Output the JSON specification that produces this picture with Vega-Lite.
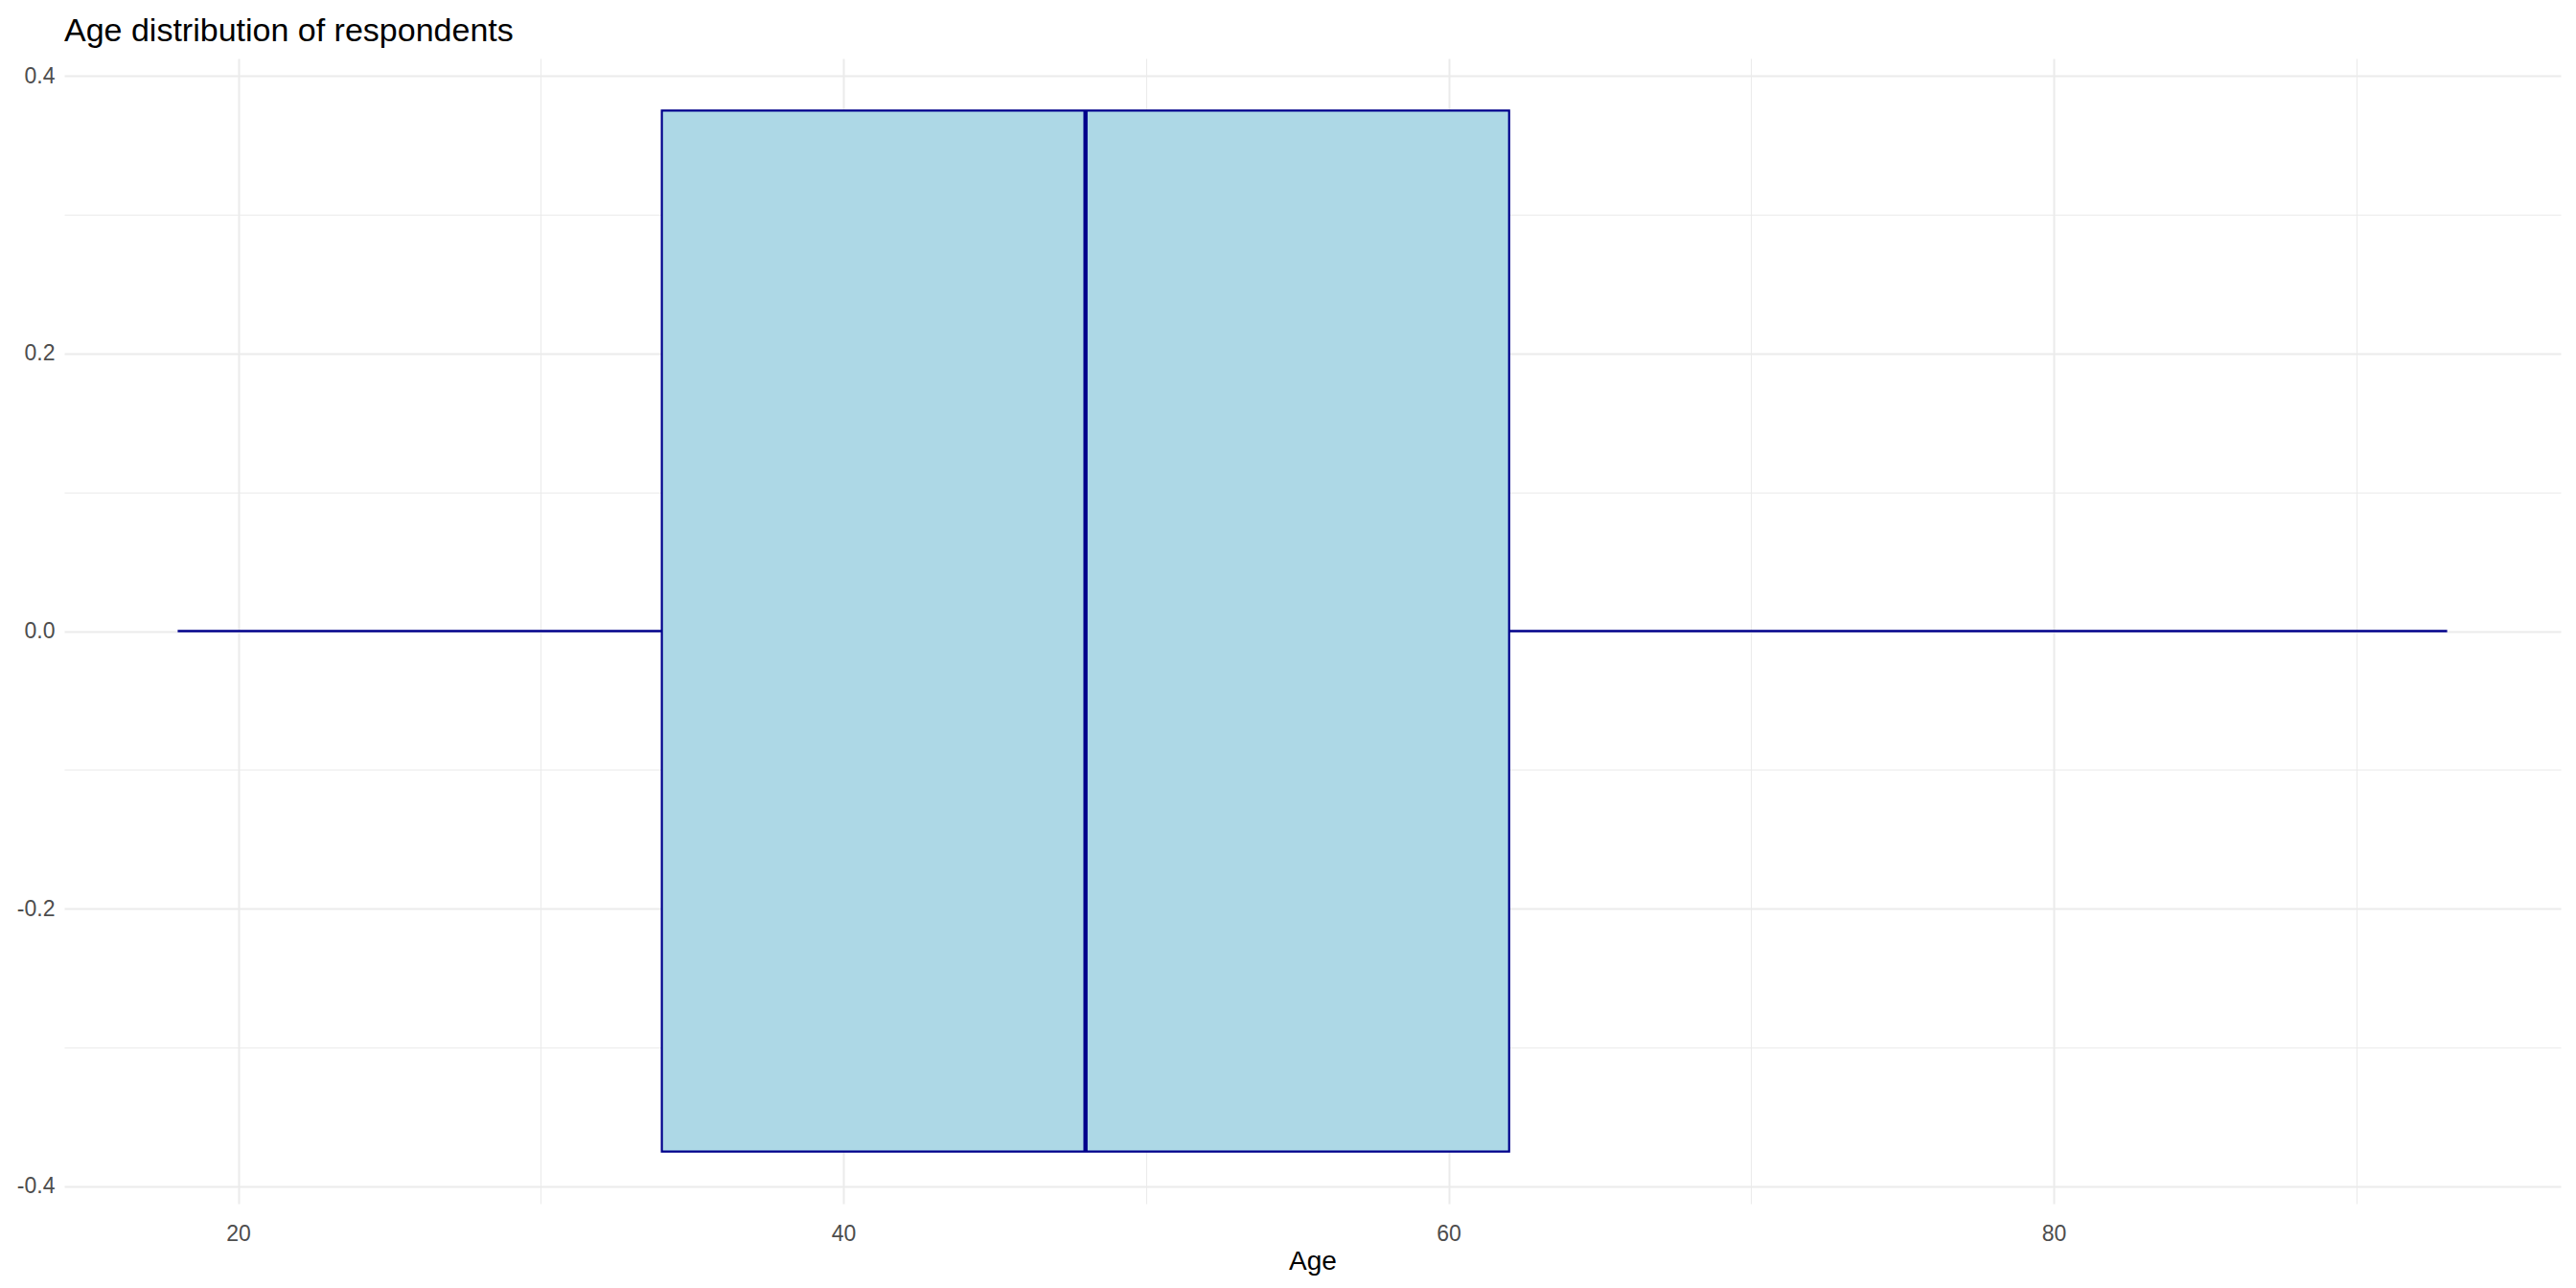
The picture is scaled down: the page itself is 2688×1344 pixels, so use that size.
{
  "$schema": "https://vega.github.io/schema/vega-lite/v6.json",
  "width": 2605,
  "height": 1195,
  "autosize": {"type": "none"},
  "padding": {"left": 67, "top": 61, "right": 16, "bottom": 88},
  "background": "white",
  "title": {
    "text": "Age distribution of respondents",
    "anchor": "start",
    "frame": "group",
    "font": "Liberation Sans",
    "fontSize": 34,
    "fontWeight": "normal",
    "color": "black",
    "baseline": "alphabetic",
    "offset": -16
  },
  "config": {
    "view": {"stroke": null},
    "font": "Liberation Sans",
    "axis": {
      "domain": false,
      "ticks": false,
      "grid": true,
      "gridColor": "#EBEBEB",
      "labelFont": "Liberation Sans",
      "labelFontSize": 23,
      "labelColor": "#4D4D4D",
      "titleFont": "Liberation Sans",
      "titleFontSize": 28,
      "titleFontWeight": "normal",
      "titleColor": "black"
    }
  },
  "data": {
    "values": [
      {"age_min": 18, "q1": 34, "median": 48, "q3": 62, "age_max": 93}
    ]
  },
  "layer": [
    {
      "mark": {"type": "rule", "color": "#00008B", "strokeWidth": 2.4},
      "encoding": {
        "x": {
          "field": "age_min",
          "type": "quantitative",
          "scale": {"domain": [14.25, 96.75], "nice": false, "zero": false},
          "axis": {
            "title": "Age",
            "grid": true,
            "values": [20, 30, 40, 50, 60, 70, 80, 90],
            "labelExpr": "datum.value % 20 == 0 ? datum.label : ''",
            "gridWidth": {"condition": {"test": "datum.value % 20 == 0", "value": 2}, "value": 1.1},
            "labelPadding": 20,
            "titlePadding": 3
          }
        },
        "x2": {"field": "age_max"},
        "y": {
          "datum": 0,
          "type": "quantitative",
          "scale": {"domain": [-0.4125, 0.4125], "nice": false, "zero": false},
          "axis": {
            "title": null,
            "grid": true,
            "values": [-0.4, -0.3, -0.2, -0.1, 0, 0.1, 0.2, 0.3, 0.4],
            "format": ".1f",
            "labelExpr": "round(abs(datum.value) * 10) % 2 == 0 ? replace(datum.label, '\u2212', '-') : ''",
            "gridWidth": {"condition": {"test": "round(abs(datum.value) * 10) % 2 == 0", "value": 2}, "value": 1.1},
            "labelPadding": 10
          }
        }
      }
    },
    {
      "mark": {"type": "rect", "fill": "#ADD8E6", "stroke": "#00008B", "strokeWidth": 2.2},
      "encoding": {
        "x": {"field": "q1", "type": "quantitative"},
        "x2": {"field": "q3"},
        "y": {"datum": -0.375, "type": "quantitative"},
        "y2": {"datum": 0.375}
      }
    },
    {
      "mark": {"type": "rule", "color": "#00008B", "strokeWidth": 4.4},
      "encoding": {
        "x": {"field": "median", "type": "quantitative"},
        "y": {"datum": -0.375, "type": "quantitative"},
        "y2": {"datum": 0.375}
      }
    }
  ]
}
